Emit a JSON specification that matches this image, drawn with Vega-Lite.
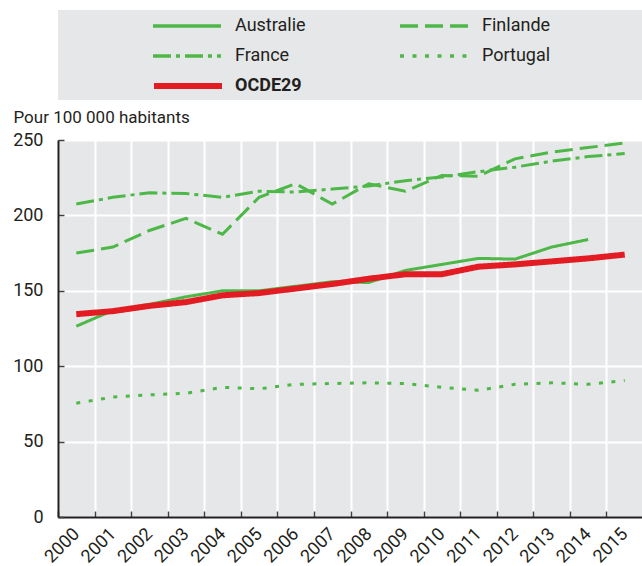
{
  "$schema": "https://vega.github.io/schema/vega-lite/v6.json",
  "padding": {"left": 12, "top": 10, "right": 0, "bottom": 0},
  "background": "white",
  "bounds": "flush",
  "spacing": 40,
  "config": {
    "font": "Roboto",
    "view": {"stroke": null},
    "axis": {"labelFont": "Roboto", "titleFont": "Roboto", "labelColor": "#231f20", "titleColor": "#231f20", "labelFontSize": 18, "titleFontSize": 17, "titleFontWeight": "normal"},
    "legend": {"labelFont": "Roboto"}
  },
  "datasets": {
    "d": [
      {"year": "2000", "series": "Australie", "value": 126.5},
      {"year": "2001", "series": "Australie", "value": 137},
      {"year": "2002", "series": "Australie", "value": 141},
      {"year": "2003", "series": "Australie", "value": 146},
      {"year": "2004", "series": "Australie", "value": 150},
      {"year": "2005", "series": "Australie", "value": 150},
      {"year": "2006", "series": "Australie", "value": 153},
      {"year": "2007", "series": "Australie", "value": 156},
      {"year": "2008", "series": "Australie", "value": 155.5},
      {"year": "2009", "series": "Australie", "value": 163.5},
      {"year": "2010", "series": "Australie", "value": 167.5},
      {"year": "2011", "series": "Australie", "value": 171.5},
      {"year": "2012", "series": "Australie", "value": 171},
      {"year": "2013", "series": "Australie", "value": 179},
      {"year": "2014", "series": "Australie", "value": 184},
      {"year": "2000", "series": "Finlande", "value": 175},
      {"year": "2001", "series": "Finlande", "value": 179},
      {"year": "2002", "series": "Finlande", "value": 190},
      {"year": "2003", "series": "Finlande", "value": 198},
      {"year": "2004", "series": "Finlande", "value": 187.5},
      {"year": "2005", "series": "Finlande", "value": 212},
      {"year": "2006", "series": "Finlande", "value": 221},
      {"year": "2007", "series": "Finlande", "value": 207.5},
      {"year": "2008", "series": "Finlande", "value": 221},
      {"year": "2009", "series": "Finlande", "value": 216},
      {"year": "2010", "series": "Finlande", "value": 226.5},
      {"year": "2011", "series": "Finlande", "value": 226},
      {"year": "2012", "series": "Finlande", "value": 237.5},
      {"year": "2013", "series": "Finlande", "value": 242},
      {"year": "2014", "series": "Finlande", "value": 245},
      {"year": "2015", "series": "Finlande", "value": 248},
      {"year": "2000", "series": "France", "value": 207.5},
      {"year": "2001", "series": "France", "value": 212},
      {"year": "2002", "series": "France", "value": 215},
      {"year": "2003", "series": "France", "value": 214.5},
      {"year": "2004", "series": "France", "value": 212},
      {"year": "2005", "series": "France", "value": 216},
      {"year": "2006", "series": "France", "value": 215.5},
      {"year": "2007", "series": "France", "value": 217.5},
      {"year": "2008", "series": "France", "value": 219.5},
      {"year": "2009", "series": "France", "value": 223},
      {"year": "2010", "series": "France", "value": 225.5},
      {"year": "2011", "series": "France", "value": 229},
      {"year": "2012", "series": "France", "value": 232},
      {"year": "2013", "series": "France", "value": 236},
      {"year": "2014", "series": "France", "value": 239},
      {"year": "2015", "series": "France", "value": 241},
      {"year": "2000", "series": "Portugal", "value": 75.5},
      {"year": "2001", "series": "Portugal", "value": 79.5},
      {"year": "2002", "series": "Portugal", "value": 81},
      {"year": "2003", "series": "Portugal", "value": 82},
      {"year": "2004", "series": "Portugal", "value": 86},
      {"year": "2005", "series": "Portugal", "value": 85},
      {"year": "2006", "series": "Portugal", "value": 88},
      {"year": "2007", "series": "Portugal", "value": 88.5},
      {"year": "2008", "series": "Portugal", "value": 89},
      {"year": "2009", "series": "Portugal", "value": 88.5},
      {"year": "2010", "series": "Portugal", "value": 86},
      {"year": "2011", "series": "Portugal", "value": 84},
      {"year": "2012", "series": "Portugal", "value": 88},
      {"year": "2013", "series": "Portugal", "value": 89},
      {"year": "2014", "series": "Portugal", "value": 88},
      {"year": "2015", "series": "Portugal", "value": 90.5},
      {"year": "2000", "series": "OCDE29", "value": 134.5},
      {"year": "2001", "series": "OCDE29", "value": 136.5},
      {"year": "2002", "series": "OCDE29", "value": 140},
      {"year": "2003", "series": "OCDE29", "value": 142.5},
      {"year": "2004", "series": "OCDE29", "value": 147},
      {"year": "2005", "series": "OCDE29", "value": 148.5},
      {"year": "2006", "series": "OCDE29", "value": 151.5},
      {"year": "2007", "series": "OCDE29", "value": 154.5},
      {"year": "2008", "series": "OCDE29", "value": 158},
      {"year": "2009", "series": "OCDE29", "value": 161},
      {"year": "2010", "series": "OCDE29", "value": 161},
      {"year": "2011", "series": "OCDE29", "value": 166},
      {"year": "2012", "series": "OCDE29", "value": 167.5},
      {"year": "2013", "series": "OCDE29", "value": 169.5},
      {"year": "2014", "series": "OCDE29", "value": 171.5},
      {"year": "2015", "series": "OCDE29", "value": 174}
    ]
  },
  "resolve": {"scale": {"x": "independent", "y": "independent", "color": "independent", "strokeDash": "independent"}},
  "vconcat": [
    {
      "width": 585,
      "height": 90,
      "view": {"fill": "#e6e7e8", "stroke": null},
      "data": {"name": "d"},
      "encoding": {
        "x": {"field": "year", "type": "ordinal", "axis": null},
        "y": {"field": "value", "type": "quantitative", "scale": {"domain": [1000, 1001]}, "axis": null}
      },
      "layer": [
        {
          "transform": [{"filter": "datum.series !== 'OCDE29'"}],
          "mark": {"type": "line", "clip": true},
          "encoding": {
            "color": {
              "field": "series", "type": "nominal",
              "scale": {"domain": ["Australie", "France", "Finlande", "Portugal"], "range": ["#4db848", "#4db848", "#4db848", "#4db848"]},
              "legend": {
                "title": null, "orient": "none", "legendX": 93, "legendY": 1,
                "columns": 2, "columnPadding": 92, "rowPadding": 0, "clipHeight": 30,
                "symbolType": "stroke", "symbolSize": 4624, "symbolStrokeWidth": 3.5, "labelOffset": 12,
                "labelFontSize": 18, "labelColor": "#231f20", "padding": 0, "labelLimit": 300
              }
            },
            "strokeDash": {
              "field": "series", "type": "nominal",
              "scale": {"domain": ["Australie", "France", "Finlande", "Portugal"], "range": [[1, 0], [18, 5, 4, 5], [18, 7], [4, 8.5]]}
            }
          }
        },
        {
          "transform": [{"filter": "datum.series === 'OCDE29'"}],
          "mark": {"type": "line", "clip": true},
          "encoding": {
            "color": {
              "field": "series", "type": "nominal",
              "scale": {"domain": ["OCDE29"], "range": ["#e31b23"]},
              "legend": {
                "title": null, "orient": "none", "legendX": 93, "legendY": 61,
                "rowPadding": 0, "clipHeight": 30,
                "symbolType": "stroke", "symbolSize": 4624, "symbolStrokeWidth": 6, "labelOffset": 10,
                "labelFontSize": 18, "labelFontWeight": "bold", "labelColor": "#231f20", "padding": 0, "labelLimit": 300
              }
            }
          }
        }
      ],
      "resolve": {"scale": {"color": "independent", "strokeDash": "independent"}}
    },
    {
      "width": 585,
      "height": 377,
      "view": {"fill": "#e6e7e8", "stroke": null},
      "data": {"name": "d"},
      "mark": {"type": "line"},
      "encoding": {
        "x": {
          "field": "year", "type": "ordinal",
          "scale": {"type": "band", "paddingInner": 0, "paddingOuter": 0},
          "axis": {
            "title": null, "labelAngle": -45, "labelAlign": "right", "labelBaseline": "middle", "labelPadding": 20,
            "tickBand": "extent", "tickSize": -6, "tickColor": "#404040", "tickWidth": 1.5,
            "domainColor": "#231f20", "domainWidth": 2, "grid": true, "gridColor": "#ffffff", "gridWidth": 2
          }
        },
        "y": {
          "field": "value", "type": "quantitative",
          "scale": {"domain": [0, 250], "nice": false},
          "axis": {
            "title": "Pour 100 000 habitants", "titleAngle": 0, "titleAlign": "left", "titleBaseline": "alphabetic",
            "titleX": -45, "titleY": -18,
            "values": [0, 50, 100, 150, 200, 250],
            "grid": true, "gridColor": "#ffffff", "gridWidth": 2,
            "tickSize": -6, "tickColor": "#404040", "tickWidth": 1.5,
            "domainColor": "#231f20", "domainWidth": 2, "labelPadding": 21,
            "encode": {"labels": {"update": {"baseline": {"signal": "datum.value === 250 ? 'bottom' : 'middle'"}}}}
          }
        },
        "color": {
          "field": "series", "type": "nominal",
          "scale": {"domain": ["Australie", "France", "OCDE29", "Finlande", "Portugal"], "range": ["#4db848", "#4db848", "#e31b23", "#4db848", "#4db848"]},
          "legend": null
        },
        "strokeDash": {
          "field": "series", "type": "nominal",
          "scale": {"domain": ["Australie", "France", "OCDE29", "Finlande", "Portugal"], "range": [[1, 0], [18, 5, 4, 5], [1, 0], [18, 7], [4, 8.5]]},
          "legend": null
        },
        "strokeWidth": {"condition": {"test": "datum.series === 'OCDE29'", "value": 6}, "value": 3}
      }
    }
  ]
}
